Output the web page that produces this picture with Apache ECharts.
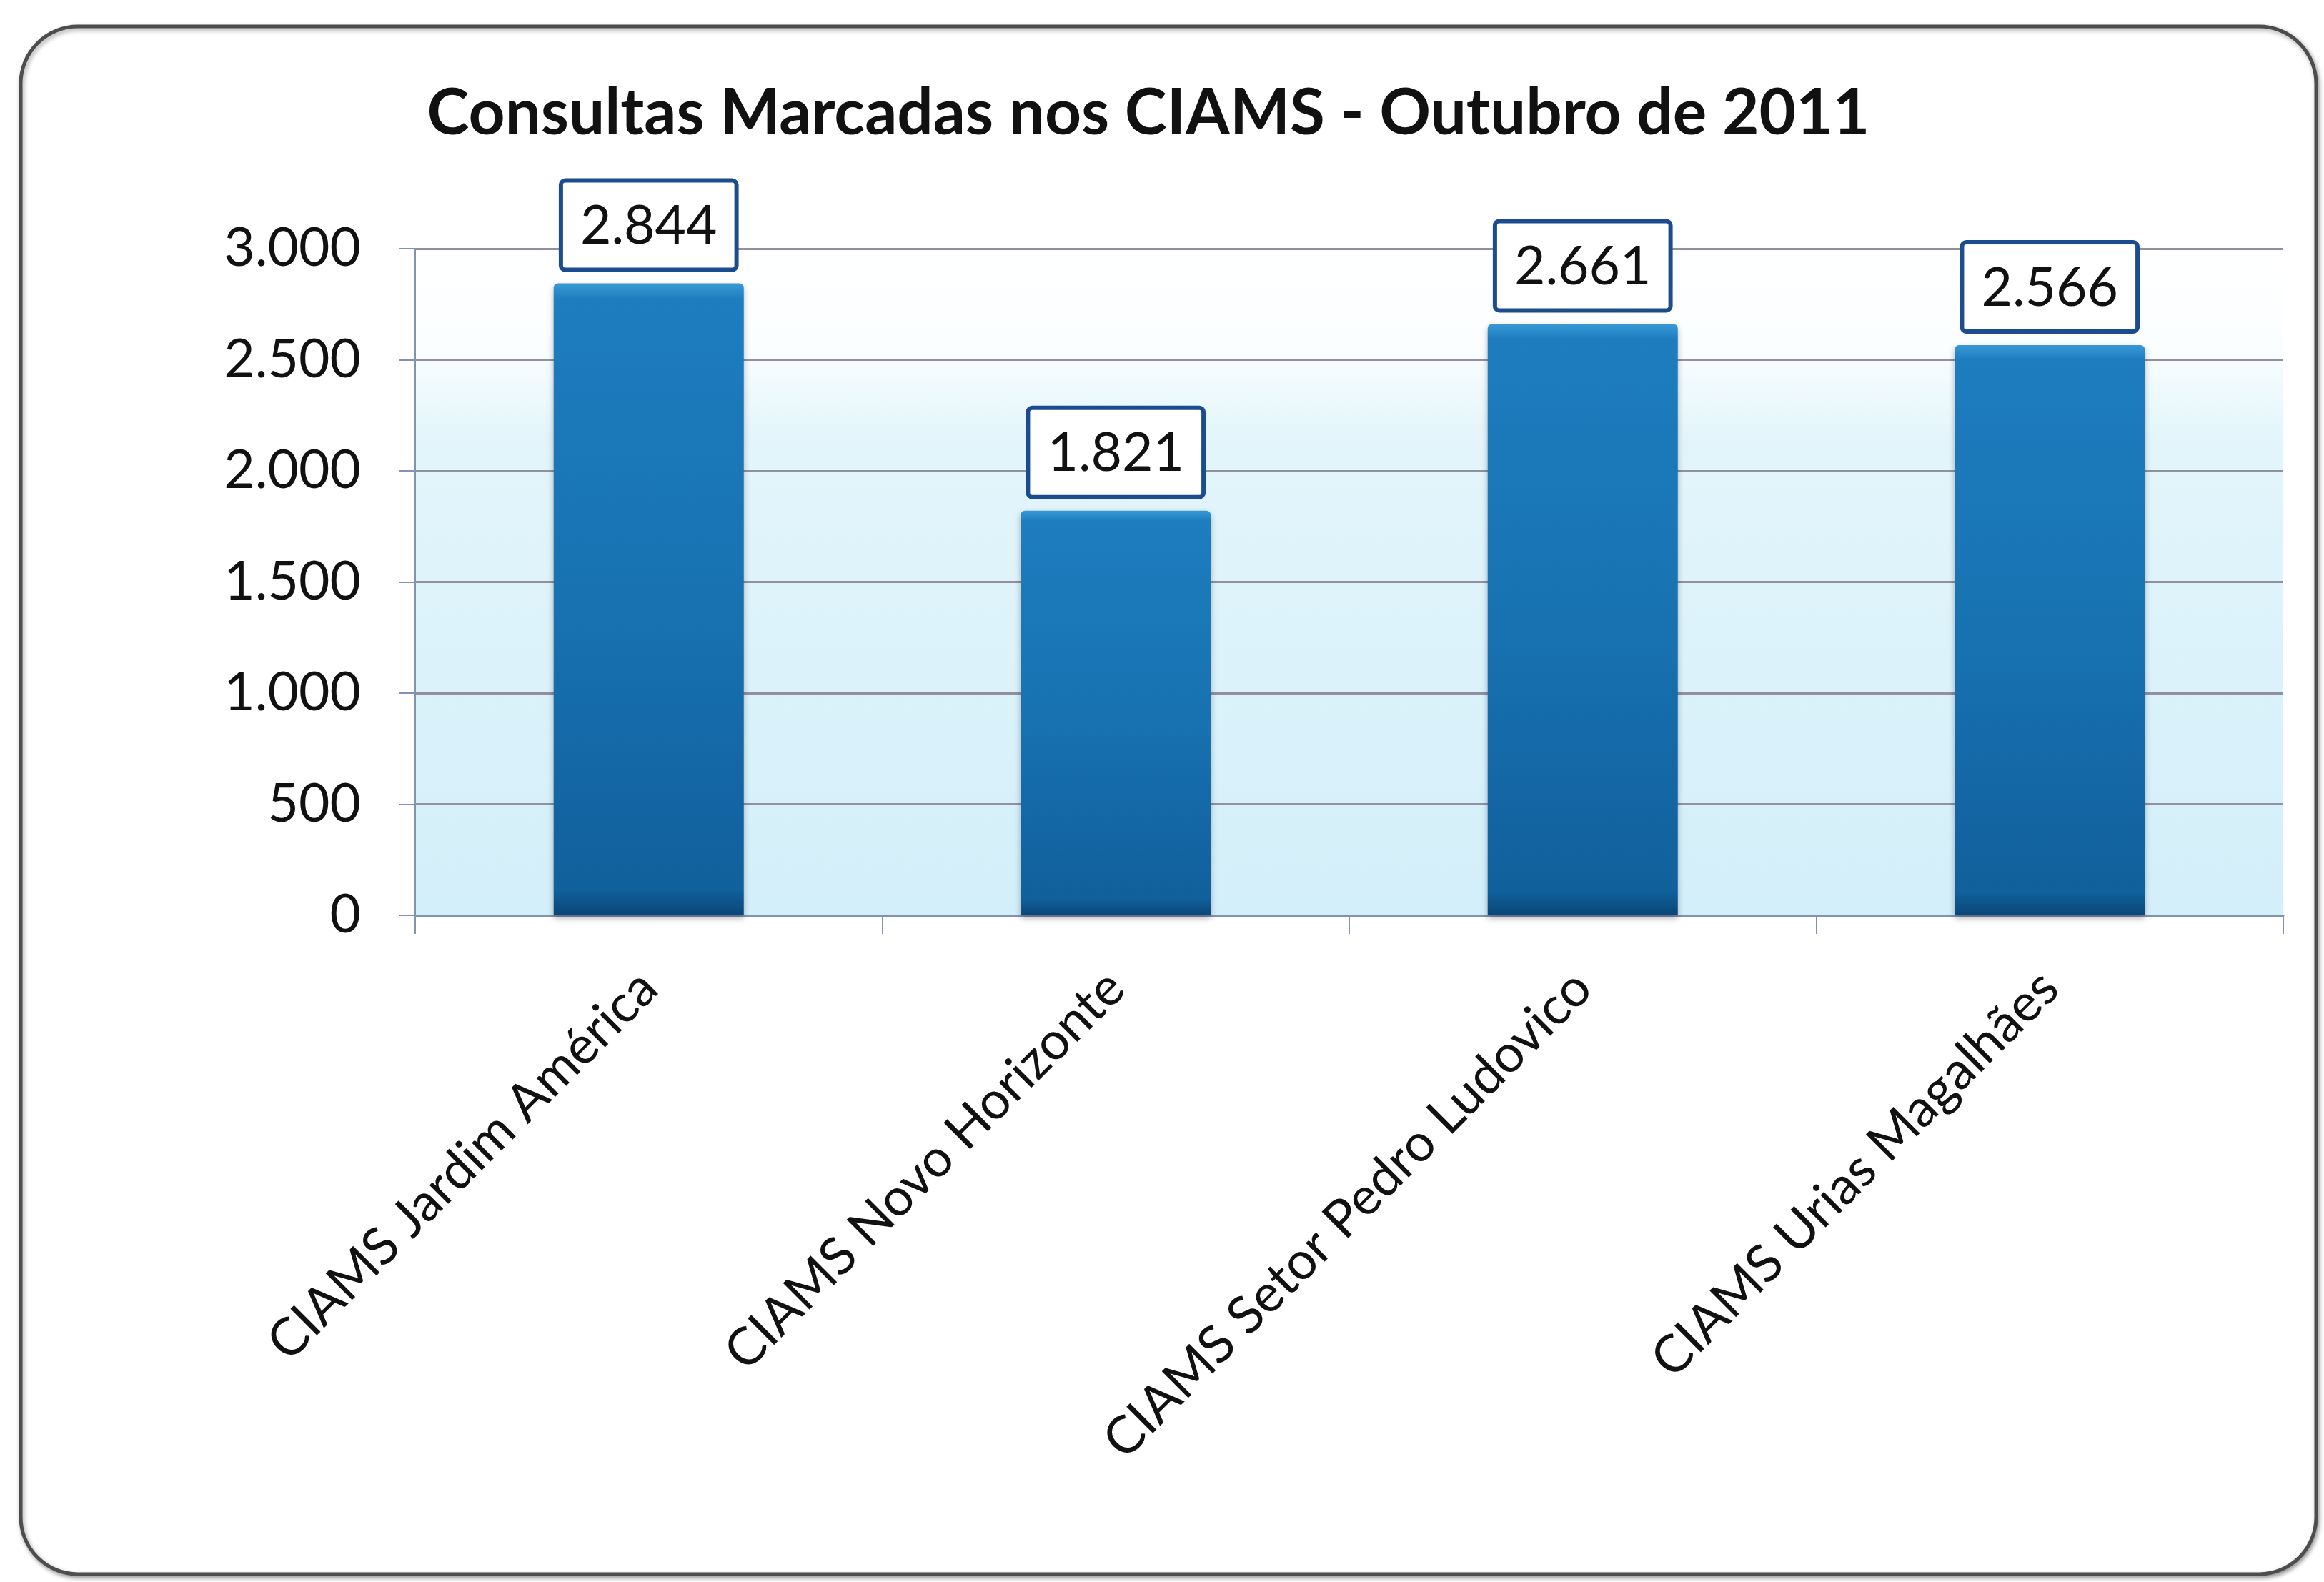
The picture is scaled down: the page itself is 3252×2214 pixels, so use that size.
<!DOCTYPE html>
<html>
<head>
<meta charset="utf-8">
<title>Consultas Marcadas nos CIAMS - Outubro de 2011</title>
<script src="https://cdn.jsdelivr.net/npm/echarts@6/dist/echarts.min.js"></script>
<style>
  html, body { margin: 0; padding: 0; background: #fff; }
  #main { width: 3252px; height: 2214px; }
</style>
</head>
<body>
<div id="main"></div>
<script>
(function(){
var myChart = echarts.init(document.getElementById('main'));

// dados
var unidades = ['CIAMS Jardim América', 'CIAMS Novo Horizonte', 'CIAMS Setor Pedro Ludovico', 'CIAMS Urias Magalhães'];
var consultas = [2844, 1821, 2661, 2566];
var yTicks = [0, 500, 1000, 1500, 2000, 2500, 3000];

// separador de milhar com ponto
function milhar(v){
    return String(v).replace(/\B(?=(\d{3})+(?!\d))/g, '.');
}

var fonte = 'Lato, "Open Sans", sans-serif';

option = {
    backgroundColor: '#ffffff',
    animation: false,
    title: {
        text: 'Consultas Marcadas nos CIAMS - Outubro de 2011',
        left: 1602,
        textAlign: 'center',
        top: 110,
        textStyle: {
            fontFamily: fonte,
            fontWeight: 'bold',
            fontSize: 89,
            color: '#111111'
        }
    },
    graphic: [{
        type: 'rect',
        z: -10,
        shape: { x: 29, y: 37, width: 3212, height: 2166, r: 80 },
        style: {
            fill: '#ffffff',
            stroke: '#4d4d4d',
            lineWidth: 5,
            shadowBlur: 6,
            shadowColor: 'rgba(0,0,0,0.35)',
            shadowOffsetX: 2,
            shadowOffsetY: 3
        }
    }],
    grid: {
        left: 581,
        right: 3252 - 3195,
        top: 348,
        bottom: 2214 - 1281,
        show: true,
        borderWidth: 0,
        backgroundColor: new echarts.graphic.LinearGradient(0, 0, 0, 1, [
            { offset: 0, color: '#ffffff' },
            { offset: 0.14, color: '#fbfeff' },
            { offset: 0.28, color: '#e3f5fb' },
            { offset: 1, color: '#d3eff9' }
        ])
    },
    xAxis: {
        type: 'category',
        data: unidades,
        boundaryGap: true,
        axisLine: { show: true, lineStyle: { color: '#8292b0', width: 3 } },
        axisTick: { show: true, length: 26, lineStyle: { color: '#8292b0', width: 2 } },
        axisLabel: {
            rotate: 45,
            margin: 90,
            fontFamily: fonte,
            fontSize: 73,
            color: '#111111',
            interval: 0
        }
    },
    yAxis: {
        type: 'value',
        min: yTicks[0],
        max: yTicks[yTicks.length - 1],
        interval: 500,
        axisLine: { show: true, lineStyle: { color: '#8292b0', width: 2 } },
        axisTick: { show: true, length: 22, lineStyle: { color: '#8292b0', width: 2 } },
        splitLine: { show: true, lineStyle: { color: '#938f9f', width: 3 } },
        axisLabel: {
            margin: 76,
            fontFamily: fonte,
            fontSize: 75,
            color: '#111111',
            formatter: function (v) { return milhar(v); }
        }
    },
    series: [{
        type: 'bar',
        data: consultas,
        barWidth: 266,
        itemStyle: {
            color: new echarts.graphic.LinearGradient(0, 0, 0, 1, [
                { offset: 0, color: '#3a9ad6' },
                { offset: 0.025, color: '#1d7dbf' },
                { offset: 0.5, color: '#1872b2' },
                { offset: 0.96, color: '#10609b' },
                { offset: 1, color: '#0a4677' }
            ]),
            borderRadius: [6, 6, 0, 0],
            shadowBlur: 8,
            shadowColor: 'rgba(0,0,0,0.3)',
            shadowOffsetY: 4
        },
        label: {
            show: true,
            position: 'top',
            distance: 22,
            formatter: function (p) { return milhar(p.value); },
            fontFamily: fonte,
            fontSize: 75,
            color: '#111111',
            backgroundColor: '#ffffff',
            borderColor: '#1b4c8e',
            borderWidth: 6,
            borderRadius: 3,
            padding: [24, 24, 20, 24]
        }
    }]
};

myChart.setOption(option);
})();
</script>
</body>
</html>
